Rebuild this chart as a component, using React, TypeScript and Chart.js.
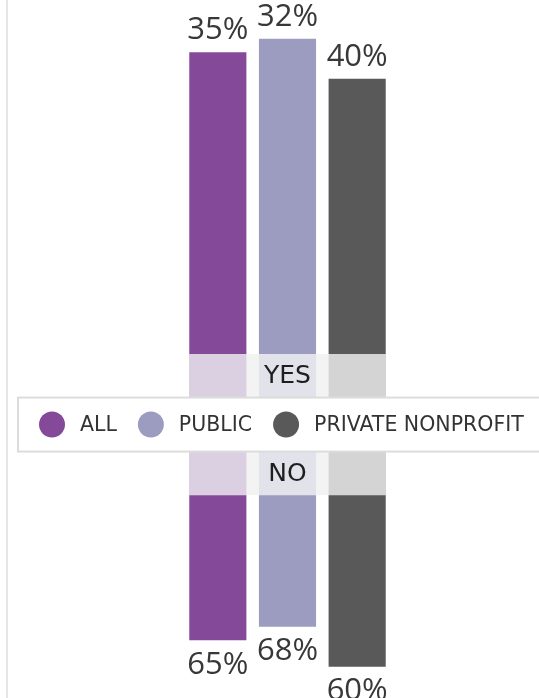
import React, { useEffect, useRef } from "react";
import { Chart, registerables } from "chart.js";

Chart.register(...registerables);

const categories = ["ALL", "PUBLIC", "PRIVATE NONPROFIT"];
const yesValues = [35, 32, 40];
const noValues = [65, 68, 60];
// where each 100% column starts on the value axis
const columnStart = [9.8, 12.1, 5.3];
const barColors = ["#844a99", "#9c9cc0", "#595959"];
const fadedColors = ["#dbd0e2", "#e2e2ea", "#d4d4d4"];
const bandRange = [34.5, 58.5];
const segmentLabels = ["YES", "NO"];
const axisMax = 118.7;

const overlayPlugin = {
  id: "overlay",
  beforeDraw(chart: any) {
    const ctx = chart.ctx;
    ctx.save();
    ctx.fillStyle = "#e6e6e6";
    ctx.fillRect(6, 0, 2, chart.height);
    ctx.restore();
  },
  afterDatasetsDraw(chart: any) {
    const ctx = chart.ctx;
    const y = chart.scales.y;
    const meta = chart.getDatasetMeta(0);
    const bars = meta.data;
    const bTop = y.getPixelForValue(bandRange[1]);
    const bBot = y.getPixelForValue(bandRange[0]);
    ctx.save();
    // band background
    const first = bars[0];
    const last = bars[bars.length - 1];
    const left = first.x - first.width / 2;
    const right = last.x + last.width / 2;
    ctx.fillStyle = "#f3f3f3";
    ctx.fillRect(left, bTop, right - left, bBot - bTop);
    bars.forEach((b: any, i: number) => {
      ctx.fillStyle = fadedColors[i];
      ctx.fillRect(b.x - b.width / 2, bTop, b.width, bBot - bTop);
    });

    // value labels
    ctx.fillStyle = "#383838";
    ctx.font = "31px 'Open Sans'";
    ctx.textAlign = "center";
    bars.forEach((b: any, i: number) => {
      const top = Math.min(b.y, b.base);
      const bottom = Math.max(b.y, b.base);
      ctx.textBaseline = "alphabetic";
      ctx.fillText(yesValues[i] + "%", b.x, top - 13);
      ctx.textBaseline = "top";
      ctx.fillText(noValues[i] + "%", b.x, bottom + 9);
    });

    // legend box
    const mid = (bTop + bBot) / 2;
    const boxH = 54;
    ctx.fillStyle = "#ffffff";
    ctx.fillRect(18, mid - boxH / 2, 540, boxH);
    ctx.strokeStyle = "#dcdcdc";
    ctx.lineWidth = 2;
    ctx.strokeRect(18, mid - boxH / 2, 540, boxH);

    // YES / NO
    const midBar = bars[1];
    ctx.fillStyle = "#1e1e1e";
    ctx.font = "25px 'DejaVu Sans'";
    ctx.textBaseline = "middle";
    ctx.textAlign = "center";
    ctx.fillText(segmentLabels[0], midBar.x, (bTop + mid - boxH / 2) / 2 + 1);
    ctx.fillText(segmentLabels[1], midBar.x, (bBot + mid + boxH / 2) / 2 + 1);

    // legend items
    ctx.font = "20.5px 'DejaVu Sans'";
    ctx.textAlign = "left";
    let cursor = 39;
    const r = 13;
    categories.forEach((c, i) => {
      ctx.fillStyle = barColors[i];
      ctx.beginPath();
      ctx.arc(cursor + r, mid, r, 0, Math.PI * 2);
      ctx.fill();
      const tx = cursor + 2 * r + 15;
      ctx.fillStyle = "#333";
      ctx.fillText(c, tx, mid + 1);
      cursor = tx + ctx.measureText(c).width + 21;
    });
    ctx.restore();
  },
};

export default function App() {
  const ref = useRef<HTMLCanvasElement>(null);
  useEffect(() => {
    if (!ref.current) return;
    const chart = new Chart(ref.current, {
      type: "bar",
      data: {
        labels: categories,
        datasets: [
          {
            label: "Share",
            data: categories.map((_, i) => [
              columnStart[i],
              columnStart[i] + noValues[i] + yesValues[i],
            ]) as any,
            backgroundColor: barColors,
            borderWidth: 0,
            barPercentage: 0.82,
            categoryPercentage: 1,
          },
        ],
      },
      options: {
        animation: false,
        responsive: true,
        maintainAspectRatio: false,
        layout: { padding: { left: 183, right: 147, top: 0, bottom: 0 } },
        plugins: { legend: { display: false }, tooltip: { enabled: false } },
        scales: {
          x: { display: false },
          y: { display: false, min: 0, max: axisMax },
        },
      },
      plugins: [overlayPlugin],
    });
    return () => chart.destroy();
  }, []);
  return (
    <div style={{ position: "fixed", left: 0, top: 0, width: 539, height: 698, background: "#fff" }}>
      <canvas ref={ref} />
    </div>
  );
}
